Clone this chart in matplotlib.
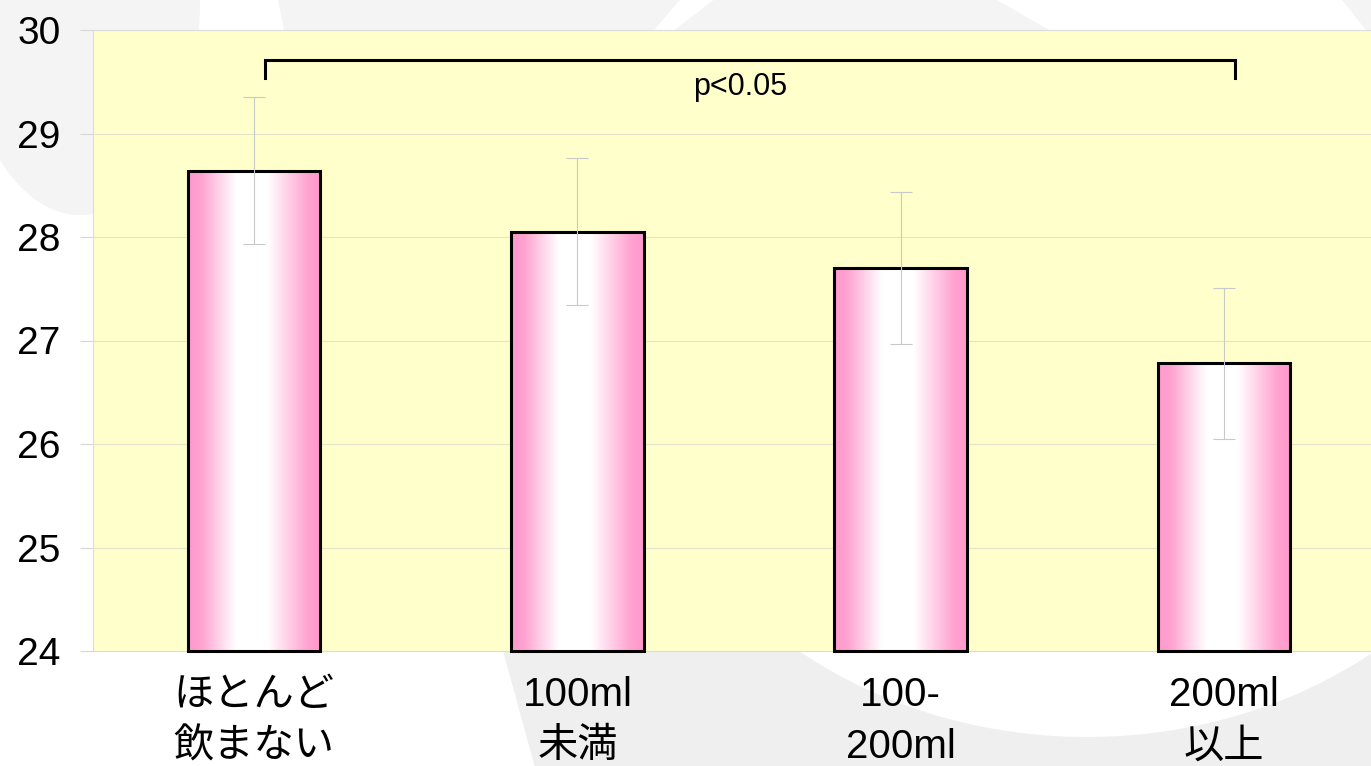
import numpy as np
import matplotlib
matplotlib.use("Agg")
import matplotlib.pyplot as plt
from matplotlib.colors import LinearSegmentedColormap
from matplotlib.patches import Polygon, Ellipse

# ---- data ----
categories = ["ほとんど\n飲まない", "100ml\n未満", "100-\n200ml", "200ml\n以上"]
means = [28.64, 28.05, 27.70, 26.78]
errors = [0.71, 0.71, 0.73, 0.73]
y_ticks = [24, 25, 26, 27, 28, 29, 30]
sig_label = "p<0.05"
sig_pair = (0, 3)

plt.rcParams['font.family'] = ['Liberation Sans', 'Noto Sans CJK JP', 'DejaVu Sans']

W, H = 1371, 766
fig = plt.figure(figsize=(W / 100, H / 100), dpi=100, facecolor='white')

# ---- decorative background (slide template swooshes) ----
bg = fig.add_axes([0, 0, 1, 1], zorder=0)
bg.set_xlim(0, W)
bg.set_ylim(H, 0)
bg.axis('off')
gray = '#f4f4f4'
gray2 = '#efefef'
bg.add_patch(Ellipse((80, 0), 240, 430, color=gray, lw=0))
bg.add_patch(Polygon([(277, -5), (988, -5), (1058, 35), (285, 35)], closed=True, color=gray, lw=0))
bg.add_patch(Polygon([(684, -5), (720, -5), (668, 35), (650, 35)], closed=True, color='white', lw=0))
bg.add_patch(Polygon([(1338, -5), (1380, -5), (1380, 35), (1370, 35)], closed=True, color=gray, lw=0))
cx, cy, a, b = 1087, 335, 466, 402
t0 = np.arcsin((640 - cy) / b)
tt = np.linspace(t0, np.pi - t0, 80)
arc = np.column_stack([cx + a * np.cos(tt), cy + b * np.sin(tt)])
poly = np.vstack([[(500, 640), (537, 775), (1380, 775), (1395, 640)], arc])
bg.add_patch(Polygon(poly, closed=True, color=gray2, lw=0))

# ---- main axes ----
ax = fig.add_axes([93 / W, (H - 651) / H, (W - 93) / W, (651 - 30) / H], zorder=1)
ax.set_facecolor('#FFFFCC')

x = np.arange(len(categories))
bars = ax.bar(x, np.array(means) - 24, bottom=24, width=0.41, facecolor='none',
              edgecolor='black', linewidth=2.2, zorder=3, clip_on=False)

cmap = LinearSegmentedColormap.from_list(
    'pinkwhite',
    [(0.0, '#FF99CC'), (0.10, '#FFA3D1'), (0.36, '#FFFFFF'), (0.60, '#FFFFFF'),
     (0.90, '#FFA3D1'), (1.0, '#FF99CC')])
grad = np.linspace(0, 1, 256).reshape(1, -1)
for bar in bars:
    x0, y0 = bar.get_x(), bar.get_y()
    w, h = bar.get_width(), bar.get_height()
    ax.imshow(grad, extent=(x0, x0 + w, y0, y0 + h), cmap=cmap, aspect='auto',
              zorder=2, interpolation='bilinear')

ax.errorbar(x, means, yerr=errors, fmt='none', ecolor='#c9c9c9', elinewidth=0.8,
            capsize=8, capthick=0.8, zorder=4)

# significance bracket
xa, xb = sig_pair[0] + 0.035, sig_pair[1] + 0.035
ax.plot([xa, xa, xb, xb], [29.54, 29.71, 29.71, 29.54], color='black', lw=2.2,
        solid_joinstyle='miter', zorder=5, clip_on=False)
ax.text((xa + xb) / 2 - 0.03, 29.45, sig_label, ha='center', va='center', fontsize=22,
        color='black', zorder=5)

ax.set_xlim(-0.4985, 3.455)
ax.set_ylim(24, 30)
ax.set_yticks(y_ticks)
ax.set_yticklabels([str(v) for v in y_ticks])
ax.set_xticks(x)
ax.set_xticklabels(categories, linespacing=1.45)
ax.grid(axis='y', color='#e3e3c9', lw=0.8)
ax.set_axisbelow(True)
ax.tick_params(axis='y', length=9.5, color='#d6d6d6', width=0.8, pad=14, labelsize=28)
ax.tick_params(axis='x', length=0, pad=18, labelsize=29)
for s in ['top', 'bottom', 'left']:
    ax.spines[s].set_color('#dcdcdc')
    ax.spines[s].set_linewidth(0.8)
ax.spines['right'].set_visible(False)

fig.savefig('out.png', dpi=100, facecolor='white')
